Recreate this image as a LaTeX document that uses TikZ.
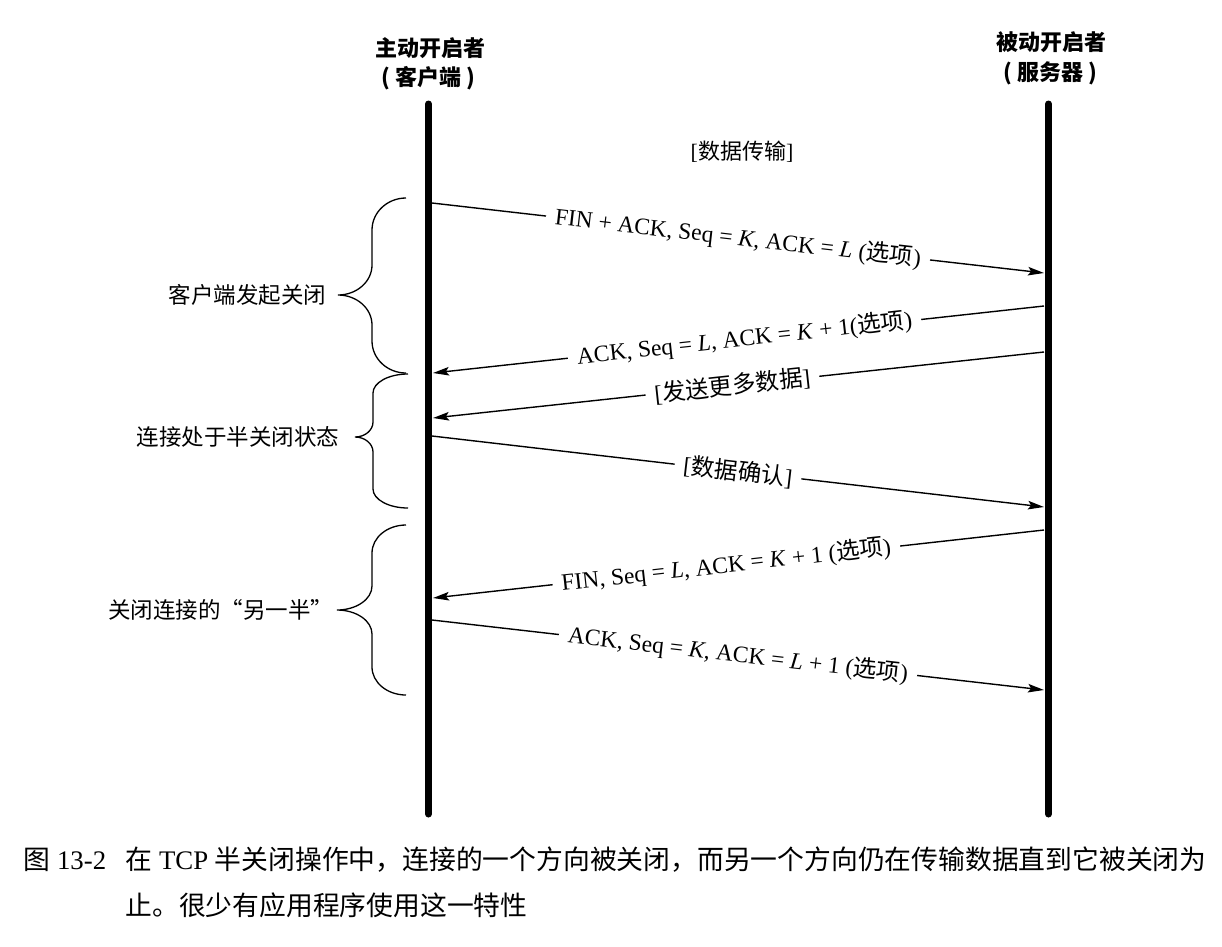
\documentclass[tikz,border=0pt]{standalone}
\usepackage{fontspec}
\setmainfont{Liberation Serif}
\newfontfamily\cjk{Noto Sans CJK SC}
\usetikzlibrary{arrows.meta}
\newcommand\zh[1]{{\cjk #1}}
\newcommand\mybrace[8]{%
 \draw[bracestyle] (#1,#4) .. controls ({#2+0.448*(#1-#2)},#4) and (#2,{#4+0.448*#7}) .. (#2,{#4+#7})
 -- (#2,{#5-#8}) .. controls (#2,{#5-0.448*#8}) and ({#3+0.552*(#2-#3)},#5) .. (#3,#5)
 .. controls ({#3+0.552*(#2-#3)},#5) and (#2,{#5+0.448*#8}) .. (#2,{#5+#8})
 -- (#2,{#6-#7}) .. controls (#2,{#6-0.448*#7}) and ({#2+0.448*(#1-#2)},#6) .. (#1,#6);}
\begin{document}
\begin{tikzpicture}[x=1pt,y=-1pt,
  lifeline/.style={line width=7pt,line cap=round},
  msg/.style={line width=1.4pt,-{Stealth[length=16pt,width=8.5pt,inset=3pt]}},
  lbl/.style={sloped,fill=white,inner xsep=9pt,inner ysep=2pt,font=\fontsize{23.5}{27}\selectfont},
  head/.style={font=\cjk\bfseries\fontsize{22}{26}\selectfont},
  side/.style={anchor=east,font=\cjk\fontsize{22.5}{26}\selectfont},
  bracestyle/.style={line width=1.3pt},
  captext/.style={anchor=west,font=\fontsize{26.8}{30}\selectfont}]
\useasboundingbox (0,0) rectangle (1222,946);
% headers
\node[head] (h1a) at (430,48) {主动开启者};
\node[head] (h1b) at (428,78) {( 客户端 )};
\node[head] (h2a) at (1051,42) {被动开启者};
\node[head] (h2b) at (1050,73) {( 服务器 )};
% lifelines
\coordinate (lt) at (428.5,104);
\coordinate (lb) at (428.5,814);
\coordinate (rt) at (1048.5,104);
\coordinate (rb) at (1048.5,814);
\draw[lifeline] (lt) -- (lb);
\draw[lifeline] (rt) -- (rb);
\node[font=\fontsize{22}{26}\selectfont] (dt) at (742,152) {[\zh{数据传输}]};
% arrow endpoints
\coordinate (a1s) at (432,203);  \coordinate (a1e) at (1044,273);
\coordinate (a2s) at (1044,306); \coordinate (a2e) at (433,373);
\coordinate (a3s) at (1044,352); \coordinate (a3e) at (433,418);
\coordinate (a4s) at (432,436);  \coordinate (a4e) at (1044,507);
\coordinate (a5s) at (1044,530); \coordinate (a5e) at (433,598);
\coordinate (a6s) at (432,620);  \coordinate (a6e) at (1044,690);
\draw[msg] (a1s) -- node[lbl] (l1) {FIN + ACK, Seq = \textit{K}, ACK = \textit{L} (\zh{选项})} (a1e);
\draw[msg] (a2s) -- node[lbl,pos=0.49] (l2) {ACK, Seq = \textit{L}, ACK = \textit{K} + 1(\zh{选项})} (a2e);
\draw[msg] (a3s) -- node[lbl,pos=0.51] (l3) {[\zh{发送更多数据}]} (a3e);
\draw[msg] (a4s) -- node[lbl] (l4) {[\zh{数据确认}]} (a4e);
\draw[msg] (a5s) -- node[lbl,pos=0.52] (l5) {FIN, Seq = \textit{L}, ACK = \textit{K} + 1 (\zh{选项})} (a5e);
\draw[msg] (a6s) -- node[lbl] (l6) {ACK, Seq = \textit{K}, ACK = \textit{L} + 1 (\zh{选项})} (a6e);
% braces
\mybrace{406}{372}{338}{198}{295}{373}{32}{30}
\mybrace{408}{373}{355}{374}{437}{508}{19}{15}
\mybrace{406}{372}{337}{525}{610}{695}{28}{24}
\node[side] (s1) at (330,295) {客户端发起关闭};
\node[side] (s2) at (343,437) {连接处于半关闭状态};
\node[side] (s3) at (337,610) {关闭连接的“另一半”};
% caption
\node[captext] (c0) at (20,860) {\zh{图} 13-2};
\node[captext] (c1) at (122,860) {\zh{在} TCP \zh{半关闭操作中，连接的一个方向被关闭，而另一个方向仍在传输数据直到它被关闭为}};
\node[captext] (c2) at (122,905) {\zh{止。很少有应用程序使用这一特性}};
\end{tikzpicture}
\end{document}
